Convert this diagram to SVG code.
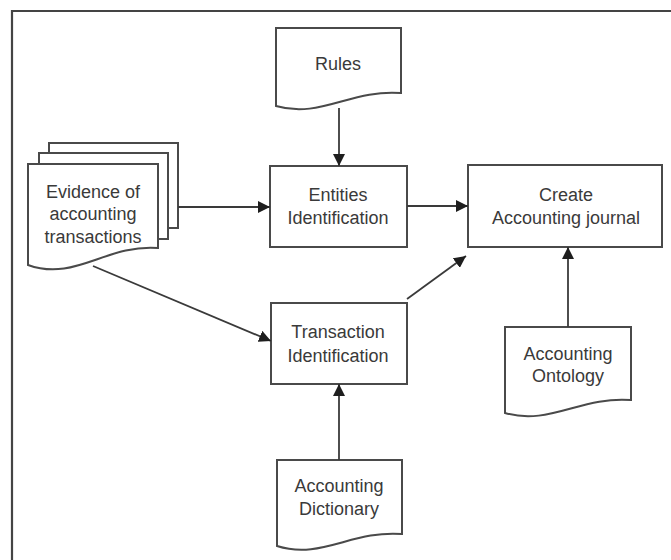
<svg xmlns="http://www.w3.org/2000/svg" width="671" height="560" viewBox="0 0 671 560">
<defs>
<style>
.box{fill:#fff;stroke:#4a4a4a;stroke-width:2}
.lbl{font-family:"Liberation Sans",Arial,sans-serif;font-size:18px;fill:#3a3a3a;text-anchor:middle}
.con{fill:none;stroke:#3a3a3a;stroke-width:1.8}
.frame{fill:none;stroke:#444;stroke-width:2.2}
</style>
<marker id="ah" markerUnits="userSpaceOnUse" markerWidth="14" markerHeight="12" refX="12" refY="6" orient="auto">
<path d="M0,0 L12,6 L0,12 Z" fill="#1e1e1e"/>
</marker>
</defs>
<rect width="671" height="560" fill="#fff"/>
<path class="frame" d="M12,562 V11 H673"/>

<g id="rules">
<path class="box" d="M276,28 H401 V93 C351,89 320,119 276,106 Z"/>
<text class="lbl" x="338" y="70">Rules</text>
</g>

<g id="evidence">
<rect class="box" x="49" y="143" width="129" height="85"/>
<rect class="box" x="39" y="153" width="129" height="86"/>
<path class="box" d="M28,164 H158 V248 C106,244 75,282 28,265 Z"/>
<text class="lbl" x="93" y="198">Evidence of</text>
<text class="lbl" x="93" y="220">accounting</text>
<text class="lbl" x="93" y="243">transactions</text>
</g>

<g id="entities">
<rect class="box" x="270" y="166" width="137" height="81"/>
<text class="lbl" x="338" y="201">Entities</text>
<text class="lbl" x="338" y="224">Identification</text>
</g>

<g id="create">
<rect class="box" x="468" y="165" width="194" height="82"/>
<text class="lbl" x="566" y="201">Create</text>
<text class="lbl" x="566" y="224">Accounting journal</text>
</g>

<g id="transaction">
<rect class="box" x="271" y="303" width="136" height="81"/>
<text class="lbl" x="338" y="338">Transaction</text>
<text class="lbl" x="338" y="362">Identification</text>
</g>

<g id="dictionary">
<path class="box" d="M277,460 H402 V534 C352,530 321,560 277,546 Z"/>
<text class="lbl" x="339" y="492">Accounting</text>
<text class="lbl" x="339" y="515">Dictionary</text>
</g>

<g id="ontology">
<path class="box" d="M505,327 H631 V400 C581,396 549,426 505,413 Z"/>
<text class="lbl" x="568" y="360">Accounting</text>
<text class="lbl" x="568" y="382">Ontology</text>
</g>

<g id="connectors">
<path class="con" d="M339,108 V166" marker-end="url(#ah)"/>
<path class="con" d="M178,207 H270" marker-end="url(#ah)"/>
<path class="con" d="M407,206 H468" marker-end="url(#ah)"/>
<path class="con" d="M93,266 L271,341" marker-end="url(#ah)"/>
<path class="con" d="M407,299 L466,256" marker-end="url(#ah)"/>
<path class="con" d="M339,460 V384" marker-end="url(#ah)"/>
<path class="con" d="M568,327 V247" marker-end="url(#ah)"/>
</g>
</svg>
